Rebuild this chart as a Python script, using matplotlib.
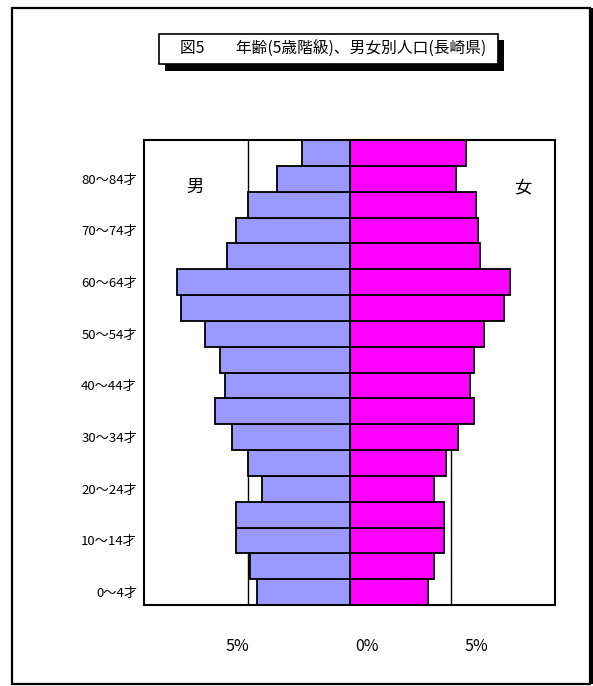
import matplotlib

matplotlib.use("Agg")
import matplotlib.pyplot as plt
import matplotlib.transforms as mtransforms
import numpy as np
from matplotlib.patches import Rectangle

plt.rcParams["font.family"] = ["Noto Sans CJK JP", "DejaVu Sans"]

# 5-year age groups, youngest first (share of each sex's population, %)
age_groups = ["0～4才", "5～9才", "10～14才", "15～19才", "20～24才", "25～29才",
              "30～34才", "35～39才", "40～44才", "45～49才", "50～54才", "55～59才",
              "60～64才", "65～69才", "70～74才", "75～79才", "80～84才", "85～89才"]
male_pct = [4.54, 4.92, 5.61, 5.61, 4.32, 5.00, 5.81, 6.60, 6.12, 6.40,
            7.10, 8.28, 8.48, 6.01, 5.61, 5.00, 3.55, 2.36]
female_pct = [3.86, 4.16, 4.65, 4.65, 4.14, 4.74, 5.33, 6.12, 5.92, 6.11,
              6.63, 7.62, 7.90, 6.42, 6.34, 6.22, 5.23, 5.73]
x_ticks = [-5, 0, 5]
x_tick_labels = ["5%", "0%", "5%"]

W, H = 593, 686
fig = plt.figure(figsize=(W / 100, H / 100), dpi=100)


def px_rect(x0, y0, x1, y1, **kw):
    """Rectangle given in pixel coords (origin top-left) on the figure."""
    return Rectangle((x0 / W, 1 - y1 / H), (x1 - x0) / W, (y1 - y0) / H,
                     transform=fig.transFigure, **kw)


def fig_xy(px, py):
    return px / W, 1 - py / H


# outer frame, heavier on the right
fig.patches.append(px_rect(12, 8, 590, 684, fill=False, edgecolor="black", lw=1.6))
fig.patches.append(px_rect(589, 8, 593, 684, facecolor="black", edgecolor="none"))

# title box with drop shadow
fig.patches.append(px_rect(165, 40, 504, 71, facecolor="black", edgecolor="none"))
fig.patches.append(px_rect(159, 34, 498, 64, facecolor="white", edgecolor="black", lw=1.2))
fig.text(*fig_xy(333, 49), "図5　　年齢(5歳階級)、男女別人口(長崎県)",
         ha="center", va="center", fontsize=11.3)

ax = fig.add_axes([144 / W, 1 - 605 / H, (555 - 144) / W, (605 - 140) / H])
y = np.arange(len(age_groups))

for gx in (-5, 5):
    ax.axvline(gx, color="black", lw=1.0, zorder=1)

ax.barh(y, -np.array(male_pct), height=1.0, color="#9999FF",
        edgecolor="black", lw=1.3, zorder=2)
ax.barh(y, female_pct, height=1.0, color="#FF00FF",
        edgecolor="black", lw=1.3, zorder=2)

ax.set_xlim(-10.12, 10.12)
ax.set_ylim(-0.5, len(age_groups) - 0.5)

ax.set_xticks(x_ticks)
ax.set_xticklabels(x_tick_labels, fontsize=11.5)
ax.set_yticks(y[::2])
ax.set_yticklabels(age_groups[::2], fontsize=9.5)
ax.tick_params(axis="x", length=0, pad=24)
ax.tick_params(axis="y", length=0, pad=5)
for sp in ax.spines.values():
    sp.set_linewidth(1.5)

# the percent labels sit a little off their gridlines
for lab, dx in zip(ax.get_xticklabels(), (-11, 17, 25)):
    lab.set_transform(lab.get_transform()
                      + mtransforms.ScaledTranslation(dx / 100, 0, fig.dpi_scale_trans))

fig.text(*fig_xy(195, 187), "男", fontsize=12.5, ha="center", va="center")
fig.text(*fig_xy(523, 187), "女", fontsize=12.5, ha="center", va="center")

fig.savefig("out.png", dpi=100)
